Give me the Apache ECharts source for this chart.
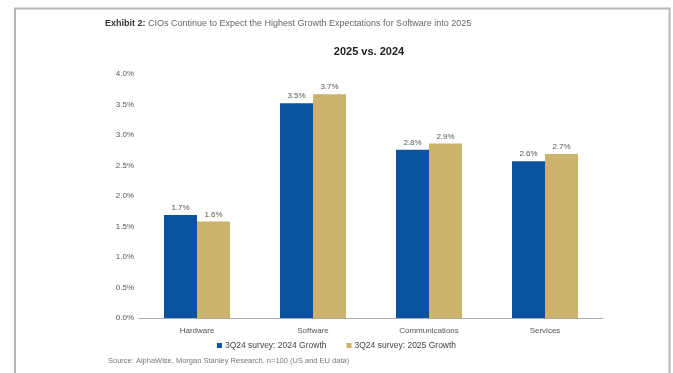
<!DOCTYPE html>
<html>
<head>
<meta charset="utf-8">
<script src="https://cdn.jsdelivr.net/npm/echarts@6/dist/echarts.min.js"></script>
<style>
    html, body { margin: 0; padding: 0; background: #fff; }
    #chart { width: 673px; height: 373px; }
</style>
</head>
<body>
<div id="chart"></div>
<script>
const categories = ['Hardware', 'Software', 'Communications', 'Services'];
const growth2024 = [1.69, 3.52, 2.76, 2.57];
const growth2025 = [1.58, 3.67, 2.86, 2.69];
const seriesNames = ['3Q24 survey: 2024 Growth', '3Q24 survey: 2025 Growth'];
const yTicks = [0, 0.5, 1, 1.5, 2, 2.5, 3, 3.5, 4];

const FONT = '"Liberation Sans Narrow", "Liberation Sans", Arial, sans-serif';
const BLUE = '#0b529f';
const GOLD = '#cbb36c';

const chart = echarts.init(document.getElementById('chart'));

const barLabel = {
    show: true,
    position: 'top',
    distance: 3,
    fontFamily: FONT,
    fontSize: 8,
    color: '#555',
    formatter: p => p.value.toFixed(1) + '%'
};

const option = {
    backgroundColor: '#fff',
    animation: false,
    textStyle: { fontFamily: FONT },
    title: [
        {
            text: '{b|Exhibit 2:} CIOs Continue to Expect the Highest Growth Expectations for Software into 2025',
            left: 100,
            top: 14,
            textStyle: {
                fontFamily: FONT,
                fontSize: 9,
                fontWeight: 'normal',
                color: '#666',
                rich: {
                    b: { fontFamily: FONT, fontSize: 9, fontWeight: 'bold', color: '#333' }
                }
            }
        },
        {
            text: '2025 vs. 2024',
            left: 364,
            textAlign: 'center',
            top: 41,
            textStyle: { fontFamily: FONT, fontSize: 11, fontWeight: 'bold', color: '#222' }
        }
    ],
    legend: {
        data: seriesNames,
        bottom: 18,
        left: 'center',
        itemWidth: 5,
        itemHeight: 5,
        itemGap: 20,
        icon: 'rect',
        textStyle: { fontFamily: FONT, fontSize: 8.5, color: '#444', padding: [0, 0, 0, -2] }
    },
    grid: { left: 139, right: 70, top: 74, bottom: 55, containLabel: false },
    xAxis: {
        type: 'category',
        data: categories,
        axisLine: { lineStyle: { color: '#aaa', width: 1 } },
        axisTick: { show: false },
        axisLabel: { fontFamily: FONT, fontSize: 8, color: '#555', margin: 9 }
    },
    yAxis: {
        type: 'value',
        min: yTicks[0],
        max: yTicks[yTicks.length - 1],
        interval: 0.5,
        axisLine: { show: false },
        axisTick: { show: false },
        splitLine: { show: false },
        axisLabel: {
            fontFamily: FONT,
            fontSize: 8,
            color: '#555',
            margin: 5,
            formatter: v => v.toFixed(1) + '%'
        }
    },
    series: [
        {
            name: seriesNames[0],
            type: 'bar',
            data: growth2024,
            barWidth: 33,
            barGap: '0%',
            itemStyle: { color: BLUE },
            label: barLabel
        },
        {
            name: seriesNames[1],
            type: 'bar',
            data: growth2025,
            barWidth: 33,
            barGap: '0%',
            itemStyle: { color: GOLD },
            label: barLabel
        }
    ],
    graphic: [
        {
            type: 'polyline',
            silent: true,
            shape: { points: [[15, 380], [15, 8.5], [669.5, 8.5], [669.5, 380]] },
            style: { stroke: '#b8b8b8', lineWidth: 2, fill: null }
        },
        {
            type: 'text',
            left: 108,
            top: 357,
            style: {
                text: 'Source: AlphaWise, Morgan Stanley Research. n=100 (US and EU data)',
                fontFamily: FONT,
                fontSize: 7.5,
                fill: '#777'
            }
        }
    ]
};

chart.setOption(option);
</script>
</body>
</html>
